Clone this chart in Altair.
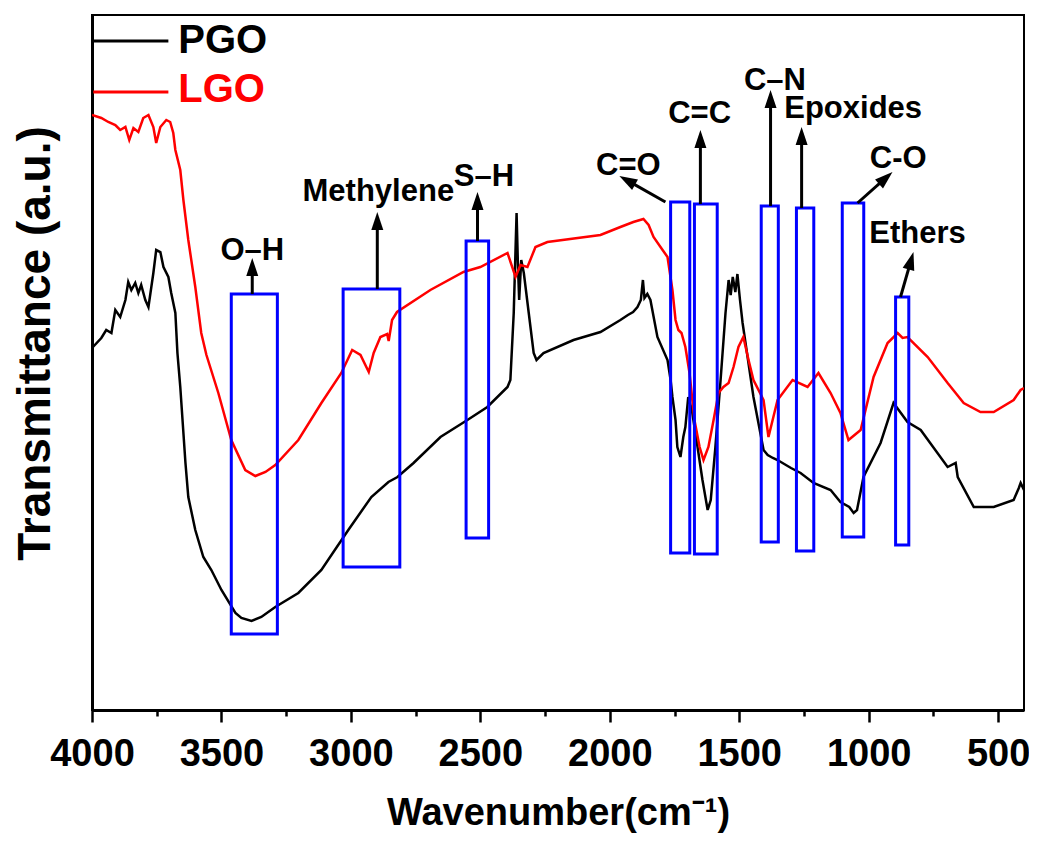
import math
import altair as alt
import pandas as pd

# ---------------- data ----------------
# wavenumber (cm-1) and transmittance (a.u.)
pgo_wn = [4000, 3964, 3945, 3925, 3910, 3891, 3871, 3860, 3848, 3833, 3821, 3810, 3794, 3782,
          3763, 3752, 3736, 3724, 3705, 3694, 3678, 3670, 3659, 3639, 3628, 3601, 3570, 3539,
          3500, 3446, 3423, 3384, 3346, 3292, 3203, 3114, 3010, 2921, 2855, 2820, 2758, 2654,
          2550, 2473, 2395, 2384, 2371, 2360, 2355, 2350, 2342, 2332, 2313, 2294, 2283, 2256,
          2140, 2036, 1959, 1930, 1910, 1893, 1880, 1872, 1866, 1855, 1843, 1816, 1777, 1765,
          1758, 1746, 1739, 1727, 1716, 1708, 1697, 1683, 1661, 1642, 1622, 1610, 1592, 1572,
          1553, 1541, 1533, 1525, 1515, 1507, 1497, 1487, 1445, 1406, 1390, 1370, 1352, 1300,
          1263, 1213, 1147, 1109, 1075, 1058, 1045, 1020, 954, 904, 850, 799, 695, 664, 656,
          594, 517, 440, 420, 413, 400]
pgo_t = [362, 372, 380, 377, 400, 393, 410, 428, 420, 427, 417, 425, 410, 403,
         437, 460, 458, 443, 433, 417, 397, 357, 323, 247, 213, 180, 153, 140,
         120, 97, 92, 89, 93, 103, 117, 140, 180, 213, 228, 233, 247, 273,
         290, 303, 323, 330, 397, 497, 447, 410, 450, 437, 397, 357, 350, 357,
         370, 378, 390, 395, 398, 403, 410, 430, 412, 416, 410, 373, 350, 330,
         313, 290, 263, 253, 273, 283, 313, 300, 263, 230, 200, 210, 263, 330,
         397, 430, 415, 433, 418, 436, 410, 387, 313, 260, 255, 252, 250, 242,
         237, 227, 220, 208, 203, 197, 200, 233, 267, 307, 288, 280, 243, 247, 233,
         203, 203, 210, 222, 227, 220]

lgo_wn = [4000, 3964, 3937, 3910, 3891, 3871, 3856, 3840, 3821, 3802, 3782, 3763, 3752, 3736,
          3713, 3698, 3686, 3678, 3659, 3647, 3628, 3601, 3578, 3558, 3512, 3462, 3408, 3369,
          3330, 3292, 3203, 3114, 3037, 2995, 2963, 2931, 2912, 2886, 2860, 2854, 2841, 2822,
          2693, 2565, 2500, 2395, 2364, 2345, 2318, 2287, 2241, 2036, 1959, 1909, 1870, 1850,
          1831, 1796, 1777, 1758, 1746, 1735, 1723, 1708, 1692, 1673, 1653, 1638, 1619, 1599,
          1580, 1561, 1541, 1522, 1503, 1484, 1464, 1445, 1406, 1387, 1352, 1294, 1236, 1194,
          1147, 1109, 1078, 1031, 981, 927, 888, 869, 850, 772, 695, 633, 568, 517, 440, 413, 400]
lgo_t = [595, 592, 588, 585, 580, 583, 570, 582, 578, 592, 595, 583, 567, 583,
         590, 588, 577, 560, 540, 510, 470, 423, 377, 355, 317, 270, 240, 234,
         238, 245, 270, 307, 337, 360, 355, 338, 357, 373, 376, 369, 390, 398,
         420, 438, 443, 457, 433, 445, 443, 463, 468, 475, 483, 488, 491, 485,
         473, 460, 453, 420, 390, 380, 377, 363, 337, 290, 263, 250, 263, 290,
         317, 323, 327, 343, 363, 373, 350, 330, 310, 273, 310, 330, 323, 337,
         317, 297, 270, 280, 333, 367, 377, 372, 373, 353, 327, 307, 298, 298, 310, 320, 322]

# highlighted bands (blue boxes): wavenumber range and transmittance range
box_wn1 = [3462, 3030, 2555, 1765, 1673, 1415, 1279, 1102, 896]
box_wn2 = [3284, 2811, 2468, 1691, 1585, 1349, 1212, 1019, 845]
box_t1 = [76, 143, 172, 157, 156, 168, 159, 173, 165]
box_t2 = [416, 421, 469, 508, 506, 504, 502, 507, 413]

# arrows: start (box edge) and tip
arr_wn0 = [3381, 2898, 2511, 1785, 1650, 1379, 1259, 1043, 877]
arr_t0 = [416, 421, 469, 508, 506, 504, 502, 507, 413]
arr_wn1 = [3381, 2898, 2511, 1963, 1650, 1379, 1259, 908, 827]
arr_t1 = [452, 498, 518, 534, 580, 620, 583, 538, 458]

# labels of the functional groups
lab_text = ["O–H", "Methylene", "S–H", "C=O", "C=C", "C–N", "Epoxides", "C-O", "Ethers"]
lab_wn = [3381, 2894, 2486, 1928, 1653, 1362, 1060, 886, 811]
lab_t = [450, 509, 524, 535, 587, 620, 592, 542, 467]

series = ["PGO", "LGO"]
series_colors = ["#000000", "#FF0000"]

# ---------------- chart ----------------
W, H = 932, 695
WN_MIN, WN_MAX = 400, 4000
T_MIN, T_MAX = 0, 695
kx = W / (WN_MAX - WN_MIN)
ky = H / (T_MAX - T_MIN)
FONT = "Liberation Sans"

xs = alt.Scale(domain=[WN_MIN, WN_MAX], reverse=True, nice=False, zero=False)
ys = alt.Scale(domain=[T_MIN, T_MAX], nice=False, zero=False)

spec = pd.concat([
    pd.DataFrame({"wn": pgo_wn, "t": pgo_t, "s": "PGO", "i": range(len(pgo_wn))}),
    pd.DataFrame({"wn": lgo_wn, "t": lgo_t, "s": "LGO", "i": range(len(lgo_wn))}),
])

tick_vals = list(range(500, 4001, 250))

x_axis = alt.Axis(
    values=tick_vals, format="d",
    labelExpr="datum.value % 500 === 0 ? datum.label : ''",
    tickSize={"condition": {"test": "datum.value % 500 === 0", "value": 12}, "value": 6},
    tickWidth=2.5, tickColor="black", domainWidth=3, domainColor="black",
    labelFont=FONT, labelFontWeight="bold", labelFontSize=38, labelColor="black",
    labelPadding=13, labelFlush=False, labelOverlap=False,
    title="Wavenumber(cm⁻¹)", titleFont=FONT, titleFontWeight="bold",
    titleFontSize=38, titleColor="black", titlePadding=21, grid=False,
)
y_axis = alt.Axis(
    ticks=False, labels=False, domainWidth=3, domainColor="black", grid=False,
    title="Transmittance (a.u.)", titleFont=FONT, titleFontWeight="bold",
    titleFontSize=46, titleColor="black", titlePadding=33, titleY=328,
)


def X(field):
    return alt.X(field, scale=xs, axis=x_axis)


def Y(field):
    return alt.Y(field, scale=ys, axis=y_axis)


lines = alt.Chart(spec).mark_line(strokeWidth=2.5, clip=True).encode(
    x=X("wn:Q"),
    y=Y("t:Q"),
    color=alt.Color("s:N", scale=alt.Scale(domain=series, range=series_colors), legend=None),
    detail="s:N",
    order="i:Q",
)

boxes_df = pd.DataFrame({"w1": box_wn1, "w2": box_wn2, "t1": box_t1, "t2": box_t2})
boxes = alt.Chart(boxes_df).mark_rect(filled=False, stroke="#0000FF", strokeWidth=3).encode(
    x=X("w1:Q"), x2="w2:Q",
    y=Y("t1:Q"), y2="t2:Q",
)

# arrows: shaft ends inside the head, head rotated along the arrow direction
HEAD_BACK = 9
rows = []
for w0, t0, w1, t1 in zip(arr_wn0, arr_t0, arr_wn1, arr_t1):
    dx = (w0 - w1) * kx          # screen dx (axis reversed)
    dyup = (t1 - t0) * ky        # screen upward
    L = math.hypot(dx, dyup)
    f = HEAD_BACK / L
    ang = math.degrees(math.atan2(dx, dyup)) % 360
    rows.append({"w0": w0, "t0": t0, "we": w1 - f * (w1 - w0), "te": t1 - f * (t1 - t0),
                 "w1": w1, "t1": t1, "ang": ang})
arr_df = pd.DataFrame(rows)

shafts = alt.Chart(arr_df).mark_rule(strokeWidth=3, color="black").encode(
    x=X("w0:Q"), x2="we:Q",
    y=Y("t0:Q"), y2="te:Q",
)
heads = alt.Chart(arr_df).mark_point(
    shape="M0,0 L-0.6,1.8 L0.6,1.8 Z", filled=True, size=400, color="black", opacity=1,
).encode(
    x=X("w1:Q"),
    y=Y("t1:Q"),
    angle=alt.Angle("ang:Q", scale=None),
)

lab_df = pd.DataFrame({"wn": lab_wn, "t": lab_t, "txt": lab_text})
labels = alt.Chart(lab_df).mark_text(
    align="center", baseline="alphabetic", font=FONT, fontWeight="bold", fontSize=31, color="black",
).encode(
    x=X("wn:Q"),
    y=Y("t:Q"),
    text="txt:N",
)

# in-plot legend
leg_df = pd.DataFrame({
    "s": series, "c": series_colors,
    "x0": [3995, 3995], "x1": [3705, 3705], "ty": [669, 618],
    "tx": [3667, 3667], "tb": [657, 608],
})
leg_lines = alt.Chart(leg_df).mark_rule(strokeWidth=3).encode(
    x=X("x0:Q"), x2="x1:Q",
    y=Y("ty:Q"),
    color=alt.Color("c:N", scale=None),
)
leg_text = alt.Chart(leg_df).mark_text(
    align="left", baseline="alphabetic", font=FONT, fontWeight="bold", fontSize=40,
).encode(
    x=X("tx:Q"),
    y=Y("tb:Q"),
    text="s:N",
    color=alt.Color("c:N", scale=None),
)

chart = alt.layer(lines, boxes, shafts, heads, labels, leg_lines, leg_text).properties(
    width=W, height=H,
    background="white",
    autosize=alt.AutoSizeParams(type="none"),
    padding={"left": 84, "top": 7, "right": 5, "bottom": 125},
).configure_view(
    stroke="black", strokeWidth=2,
)

chart.save("out.html", embed_options={"renderer": "svg", "actions": False})
